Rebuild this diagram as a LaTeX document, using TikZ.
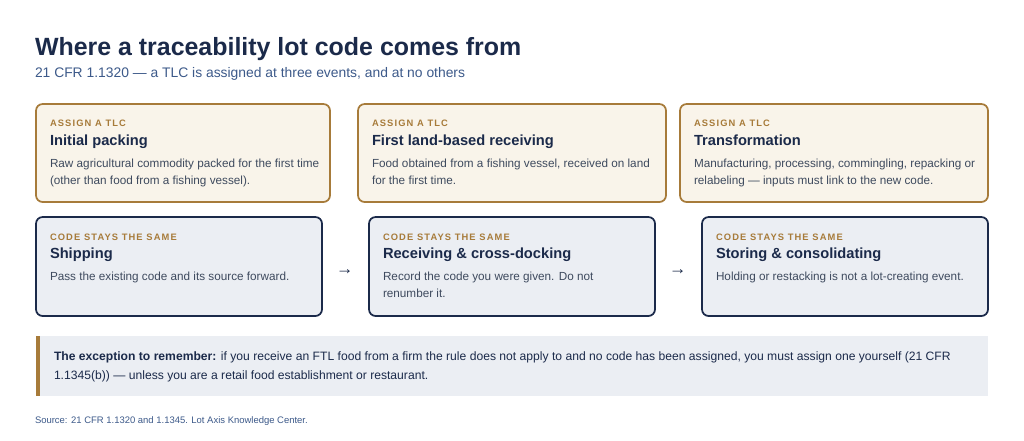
\documentclass[tikz,border=0pt]{standalone}
\usepackage{fontspec}
\setmainfont{Liberation Sans}
\definecolor{navy}{HTML}{1B2A4A}
\definecolor{gold}{HTML}{A77B3A}
\definecolor{cream}{HTML}{F9F4EA}
\definecolor{pale}{HTML}{EBEEF3}
\definecolor{body}{HTML}{3E4A5E}
\definecolor{sub}{HTML}{3D5A8A}
\begin{document}
\begin{tikzpicture}[x=0.75pt,y=-0.75pt,
  t/.style={anchor=base west,inner sep=0pt,outer sep=0pt},
  boxA/.style={draw=gold,fill=cream,line width=1.3pt,rounded corners=5pt},
  boxB/.style={draw=navy,fill=pale,line width=1.3pt,rounded corners=5pt},
  lab/.style={t,text=gold,font=\fontsize{7}{8}\selectfont\bfseries\addfontfeatures{LetterSpace=12}},
  ttl/.style={t,text=navy,font=\fontsize{11}{13}\selectfont\bfseries},
  dsc/.style={anchor=north west,inner sep=0pt,outer sep=0pt,text=body,font=\fontsize{8.8}{12.8}\selectfont,align=left},
  arr/.style={t,text=navy,font=\fontsize{13}{14}\selectfont}]
\useasboundingbox (0,0) rectangle (1024,440);
\fill[white] (0,0) rectangle (1024,440);
\node[t,text=navy,font=\fontsize{18.7}{22}\selectfont\bfseries] (title) at (35,55) {Where a traceability lot code comes from};
\node[t,text=sub,font=\fontsize{10.4}{13}\selectfont] (subt) at (35,77) {21 CFR 1.1320 — a TLC is assigned at three events, and at no others};
% top row
\draw[boxA] (36,104) rectangle (330,202);
\draw[boxA] (358,104) rectangle (666,202);
\draw[boxA] (680,104) rectangle (988,202);
\node[lab] (l1) at (50,126) {ASSIGN A TLC};
\node[ttl] (t1) at (50,145) {Initial packing};
\node[dsc] (d1) at (50,159) {Raw agricultural commodity packed for the first time\\(other than food from a fishing vessel).};
\node[lab] (l2) at (372,126) {ASSIGN A TLC};
\node[ttl] (t2) at (372,145) {First land-based receiving};
\node[dsc] (d2) at (372,159) {Food obtained from a fishing vessel, received on land\\for the first time.};
\node[lab] (l3) at (694,126) {ASSIGN A TLC};
\node[ttl] (t3) at (694,145) {Transformation};
\node[dsc] (d3) at (694,159) {Manufacturing, processing, commingling, repacking or\\relabeling — inputs must link to the new code.};
% bottom row
\draw[boxB] (36,217) rectangle (322,316);
\draw[boxB] (369,217) rectangle (655,316);
\draw[boxB] (702,217) rectangle (988,316);
\node[lab] (l4) at (50,240) {CODE STAYS THE SAME};
\node[ttl] (t4) at (50,258) {Shipping};
\node[dsc] (d4) at (50,272) {Pass the existing code and its source forward.};
\node[lab] (l5) at (383,240) {CODE STAYS THE SAME};
\node[ttl] (t5) at (383,258) {Receiving \& cross-docking};
\node[dsc] (d5) at (383,272) {Record the code you were given. Do not\\renumber it.};
\node[lab] (l6) at (716,240) {CODE STAYS THE SAME};
\node[ttl] (t6) at (716,258) {Storing \& consolidating};
\node[dsc] (d6) at (716,272) {Holding or restacking is not a lot-creating event.};
\node[arr] (a1) at (336,274) {→};
\node[arr] (a2) at (669,274) {→};
% exception
\fill[pale] (36,336) rectangle (988,396);
\fill[gold] (36,336) rectangle (40,396);
\node[dsc,text=navy,font=\fontsize{9.1}{14.3}\selectfont] (ex) at (54,352) {\textbf{The exception to remember:} if you receive an FTL food from a firm the rule does not apply to and no code has been assigned, you must assign one yourself (21 CFR\\1.1345(b)) — unless you are a retail food establishment or restaurant.};
\node[t,text=sub,font=\fontsize{7.1}{9}\selectfont] (src) at (35,423) {Source: 21 CFR 1.1320 and 1.1345. Lot Axis Knowledge Center.};
\end{tikzpicture}
\end{document}
